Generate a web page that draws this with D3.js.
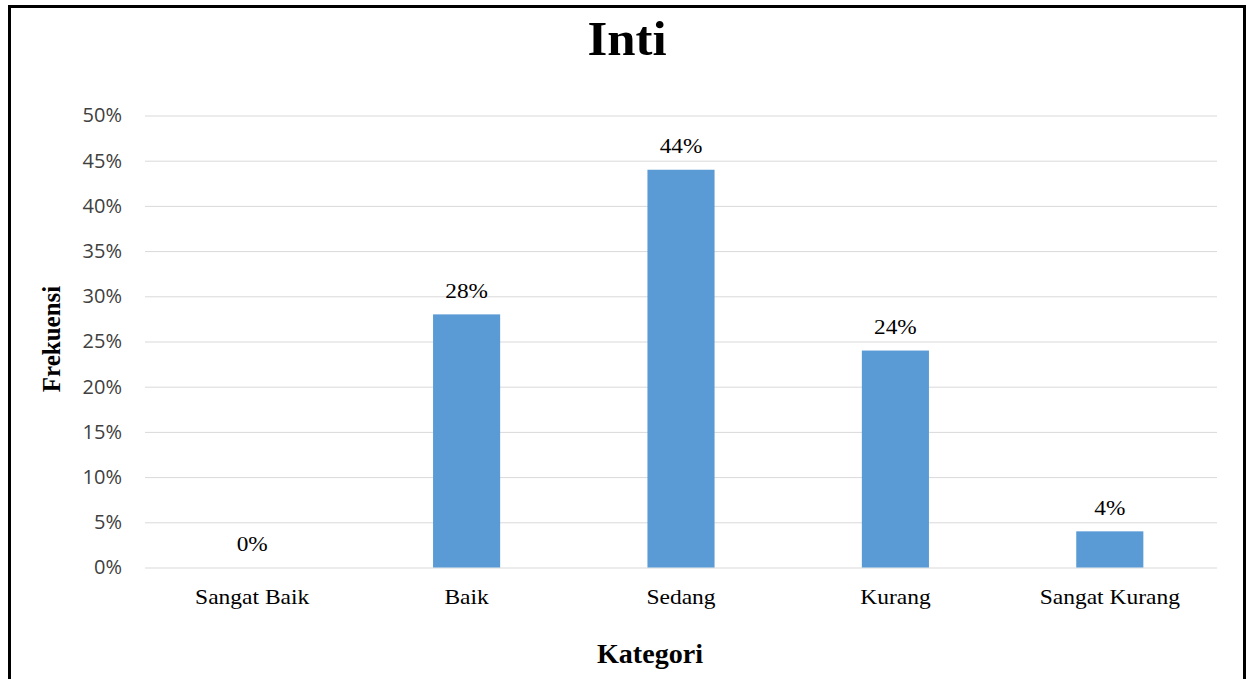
<!DOCTYPE html>
<html>
<head>
<meta charset="utf-8">
<script src="https://cdn.jsdelivr.net/npm/d3@7"></script>
<style>
  html, body { margin: 0; padding: 0; background: #fff; }
  svg { display: block; }
</style>
</head>
<body>
<svg id="chart" width="1250" height="679"></svg>
<script>
const categories = ["Sangat Baik", "Baik", "Sedang", "Kurang", "Sangat Kurang"];
const values = [0, 0.28, 0.44, 0.24, 0.04];
const valueLabels = ["0%", "28%", "44%", "24%", "4%"];
const yTicks = [0, 0.05, 0.10, 0.15, 0.20, 0.25, 0.30, 0.35, 0.40, 0.45, 0.50];
const title = "Inti";
const xTitle = "Kategori";
const yTitle = "Frekuensi";

const svg = d3.select("#chart");
const W = 1250, H = 679;
const plot = { left: 145, right: 1217, top: 115.5, bottom: 567.5 };
const serif = "'Liberation Serif', 'Times New Roman', serif";

svg.append("rect").attr("x", 0).attr("y", 0).attr("width", W).attr("height", H).attr("fill", "#fff");
svg.append("rect").attr("x", 9.5).attr("y", 6.5).attr("width", 1235).attr("height", 690)
  .attr("fill", "none").attr("stroke", "#000").attr("stroke-width", 3);

const x = d3.scaleBand().domain(categories).range([plot.left, plot.right]).paddingInner(0).paddingOuter(0);
const y = d3.scaleLinear().domain([0, 0.5]).range([plot.bottom, plot.top]);
const barW = x.bandwidth() * 0.313;
const cx = c => x(c) + x.bandwidth() / 2;

// gridlines + y tick labels
const yAxis = d3.axisLeft(y).tickValues(yTicks).tickFormat(d3.format(".0%")).tickSize(-(plot.right - plot.left)).tickPadding(23);
const gy = svg.append("g").attr("transform", `translate(${plot.left},0)`).call(yAxis);
gy.select(".domain").remove();
gy.selectAll(".tick line").attr("stroke", "#d9d9d9").attr("stroke-width", 1);
gy.selectAll(".tick text").attr("fill", "#404040").style("font-family", "'Open Sans', 'Liberation Sans', sans-serif").style("font-size", "20px");

// bars
svg.append("g").selectAll("rect").data(values).join("rect")
  .attr("x", (d, i) => cx(categories[i]) - barW / 2)
  .attr("y", d => y(d))
  .attr("width", barW)
  .attr("height", d => y(0) - y(d))
  .attr("fill", "#5b9bd5");

// value labels
svg.append("g").selectAll("text").data(values).join("text")
  .attr("transform", (d, i) => `translate(${cx(categories[i])},${y(d) - 16.5}) scale(1.06,1)`)
  .attr("text-anchor", "middle")
  .style("font-family", serif)
  .style("font-size", "22px")
  .attr("fill", "#000")
  .text((d, i) => valueLabels[i]);

// x axis labels
svg.append("g").selectAll("text").data(categories).join("text")
  .attr("transform", d => `translate(${cx(d)},604) scale(1.12,1)`)
  .attr("text-anchor", "middle")
  .style("font-family", serif)
  .style("font-size", "21px")
  .attr("fill", "#000")
  .text(d => d);

// title
svg.append("text").attr("transform", "translate(627,55) scale(1.06,1)").attr("text-anchor", "middle")
  .style("font-family", serif).style("font-size", "48px").style("font-weight", "bold")
  .text(title);

// x title
svg.append("text").attr("transform", "translate(650,663) scale(1.04,1)").attr("text-anchor", "middle")
  .style("font-family", serif).style("font-size", "27px").style("font-weight", "bold")
  .text(xTitle);

// y title
svg.append("text").attr("transform", "translate(60,339) rotate(-90)").attr("text-anchor", "middle")
  .style("font-family", serif).style("font-size", "25px").style("font-weight", "bold")
  .text(yTitle);
</script>
</body>
</html>
